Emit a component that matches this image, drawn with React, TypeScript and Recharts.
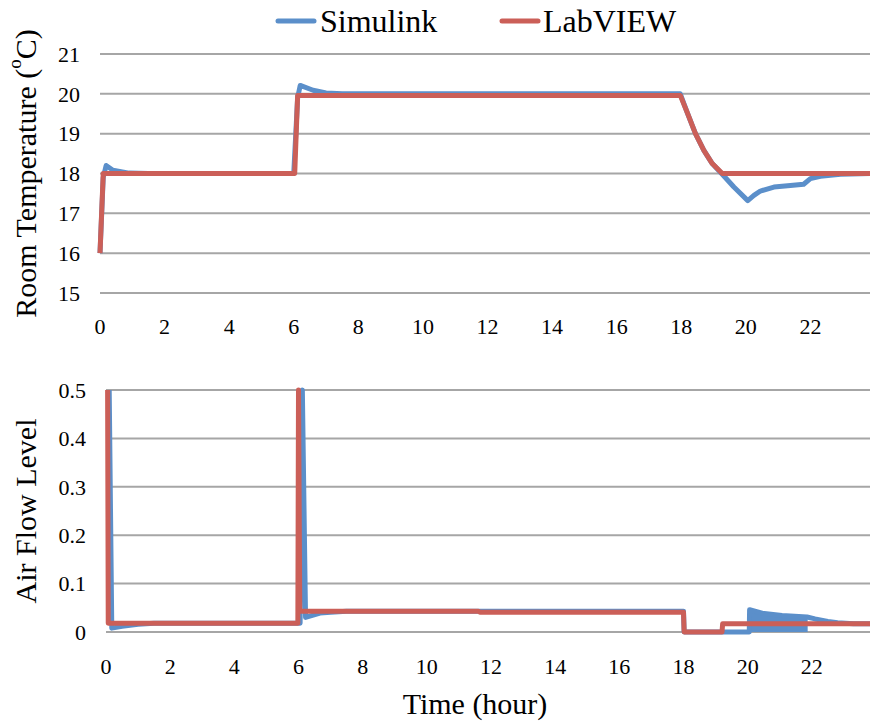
import { ComposedChart, Line, Area, XAxis, YAxis, CartesianGrid } from 'recharts';

const BLUE = '#5B8FCA';
const RED = '#CB5F58';
const GRID = '#A6A6A6';
const SERIF = '"Liberation Serif", "Times New Roman", serif';

// axes
const hourTicks = [0, 2, 4, 6, 8, 10, 12, 14, 16, 18, 20, 22];
const tempTicks = [15, 16, 17, 18, 19, 20, 21];
const flowTicks = [0, 0.1, 0.2, 0.3, 0.4, 0.5];

// room temperature (ºC) - Simulink
const tempSimHours = [0, 0.1, 0.19, 0.4, 0.9, 1.5, 6.0, 6.12, 6.2, 6.6, 7.0, 7.5, 17.97, 18.18, 18.44, 18.7, 18.96, 19.27, 19.63, 20.06, 20.25, 20.45, 20.87, 21.38, 21.79, 22.0, 22.31, 22.93, 24];
const tempSimValues = [16, 17.9, 18.2, 18.08, 18.01, 18.0, 18.0, 19.9, 20.21, 20.09, 20.02, 20.0, 20.0, 19.54, 19.0, 18.58, 18.25, 17.98, 17.66, 17.32, 17.45, 17.56, 17.66, 17.7, 17.73, 17.87, 17.93, 17.98, 18.0];

// room temperature (ºC) - LabVIEW
const tempLabHours = [0, 0.1, 6.03, 6.12, 17.97, 18.18, 18.44, 18.7, 18.96, 19.27, 24];
const tempLabValues = [16, 18, 18, 19.96, 19.96, 19.54, 19.0, 18.58, 18.25, 18.0, 18.0];

// air flow level - Simulink
const flowSimHours = [0.1, 0.18, 0.5, 1.0, 1.5, 6.05, 6.12, 6.22, 6.67, 7.0, 7.5, 18.0, 18.02, 20.05, 20.06, 20.45, 21.07, 21.85, 22.1, 22.5, 22.8, 23.3, 24];
const flowSimValues = [0.5, 0.008, 0.012, 0.016, 0.018, 0.018, 0.5, 0.03, 0.039, 0.041, 0.043, 0.043, 0, 0, 0.046, 0.039, 0.034, 0.031, 0.027, 0.022, 0.019, 0.017, 0.017];

// air flow level - Simulink chattering band (20h - 22h)
const flowBandHours = [20.06, 20.45, 21.07, 21.87];
const flowBandTops = [0.046, 0.039, 0.034, 0.031];

// air flow level - LabVIEW
const flowLabHours = [0.05, 0.07, 5.98, 6.0, 6.04, 11.6, 11.65, 18.0, 18.02, 19.2, 19.22, 24];
const flowLabValues = [0.5, 0.018, 0.018, 0.5, 0.043, 0.043, 0.041, 0.041, 0, 0, 0.017, 0.017];

const zip = (hours: number[], values: number[]) => hours.map((t, i) => ({ t, v: values[i] }));

const tempSim = zip(tempSimHours, tempSimValues);
const tempLab = zip(tempLabHours, tempLabValues);
const flowSim = zip(flowSimHours, flowSimValues);
const flowLab = zip(flowLabHours, flowLabValues);
const flowBand = flowBandHours.map((t, i) => ({ t, band: [0, flowBandTops[i]] }));

// serif tick labels
const xTick = (p: any) => (
  <text x={p.x} y={p.y} dy="0.71em" textAnchor="middle" fontSize={22} fontFamily={SERIF} fill="#000">
    {p.payload.value}
  </text>
);
const yTick = (p: any) => (
  <text x={p.x} y={p.y} dy="0.355em" textAnchor="end" fontSize={22} fontFamily={SERIF} fill="#000">
    {p.payload.value}
  </text>
);

// rotated y axis title, centred on the plot
function yTitle(text: React.ReactNode) {
  return (props: any) => {
    const vb = props.viewBox || {};
    const cx = 25;
    const cy = (vb.y ?? 0) + (vb.height ?? 0) / 2;
    return (
      <text x={cx} y={cy} transform={`rotate(-90, ${cx}, ${cy})`} textAnchor="middle"
        dominantBaseline="central" fontSize={30} fontFamily={SERIF} fill="#000">
        {text}
      </text>
    );
  };
}

function timeTitle(props: any) {
  const vb = props.viewBox || {};
  const cx = (vb.x ?? 0) + (vb.width ?? 0) / 2 - 16;
  const y = (vb.y ?? 0) + 82;
  return (
    <text x={cx} y={y} textAnchor="middle" fontSize={30} fontFamily={SERIF} fill="#000">
      Time (hour)
    </text>
  );
}

function LegendOverlay() {
  return (
    <svg width={870} height={45} style={{ position: 'absolute', left: 0, top: 0 }}>
      <line x1={278} y1={21} x2={314} y2={21} stroke={BLUE} strokeWidth={5} strokeLinecap="round" />
      <text x={320} y={32} fontSize={32} fontFamily={SERIF} fill="#000">Simulink</text>
      <line x1={502} y1={21} x2={538} y2={21} stroke={RED} strokeWidth={5} strokeLinecap="round" />
      <text x={543} y={32} fontSize={32} fontFamily={SERIF} fill="#000">LabVIEW</text>
    </svg>
  );
}

export default function App() {
  return (
    <div style={{ position: 'absolute', left: 0, top: 0, width: 870, height: 721, overflow: 'hidden', background: '#fff', fontFamily: SERIF }}>
      {/* room temperature */}
      <div style={{ position: 'absolute', left: 0, top: 0 }}>
        <ComposedChart width={880} height={345} margin={{ top: 54, right: 5, bottom: 0, left: 0 }}>
          <CartesianGrid vertical={false} stroke={GRID} strokeWidth={2} />
          <XAxis type="number" dataKey="t" domain={[0, 24]} ticks={hourTicks} height={52}
            axisLine={false} tickLine={false} tickSize={0} tickMargin={25} tick={xTick} />
          <YAxis type="number" dataKey="v" domain={[15, 21]} ticks={tempTicks} width={100}
            axisLine={false} tickLine={false} tickSize={0} tickMargin={20} tick={yTick}
            label={{ content: yTitle(<>Room Temperature (<tspan fontSize={19} dy={-11}>o</tspan><tspan dy={11}>C)</tspan></>) }} />
          <Line data={tempSim} dataKey="v" type="linear" stroke={BLUE} strokeWidth={5} dot={false}
            strokeLinejoin="round" isAnimationActive={false} />
          <Line data={tempLab} dataKey="v" type="linear" stroke={RED} strokeWidth={5} dot={false}
            strokeLinejoin="round" isAnimationActive={false} />
        </ComposedChart>
      </div>

      {/* air flow level */}
      <div style={{ position: 'absolute', left: 0, top: 345 }}>
        <ComposedChart width={881} height={376} margin={{ top: 45, right: 5, bottom: 0, left: 0 }}>
          <CartesianGrid vertical={false} stroke={GRID} strokeWidth={2} />
          <XAxis type="number" dataKey="t" domain={[0, 24]} ticks={hourTicks} height={89}
            axisLine={false} tickLine={false} tickSize={0} tickMargin={26} tick={xTick}
            label={{ content: timeTitle }} />
          <YAxis type="number" domain={[0, 0.5]} ticks={flowTicks} width={106}
            axisLine={false} tickLine={false} tickSize={0} tickMargin={20} tick={yTick}
            label={{ content: yTitle('Air Flow Level') }} />
          <Area data={flowBand} dataKey="band" type="linear" stroke="none" fill={BLUE} fillOpacity={1}
            isAnimationActive={false} />
          <Line data={flowSim} dataKey="v" type="linear" stroke={BLUE} strokeWidth={5} dot={false}
            strokeLinejoin="round" isAnimationActive={false} />
          <Line data={flowLab} dataKey="v" type="linear" stroke={RED} strokeWidth={5} dot={false}
            strokeLinejoin="round" isAnimationActive={false} />
        </ComposedChart>
      </div>

      <LegendOverlay />
    </div>
  );
}
